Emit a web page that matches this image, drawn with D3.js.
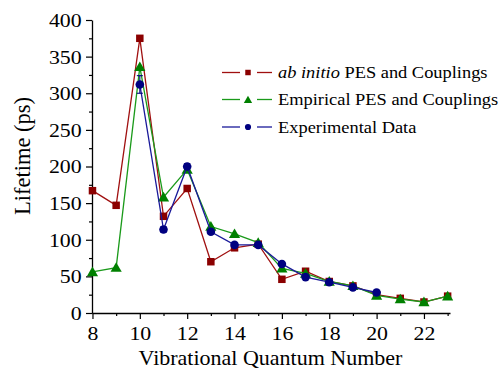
<!DOCTYPE html>
<html>
<head>
<meta charset="utf-8">
<script src="https://cdn.jsdelivr.net/npm/d3@7"></script>
<style>
  html, body { margin: 0; padding: 0; background: #fff; }
  svg { display: block; }
  text { font-family: "Liberation Serif", "Times New Roman", serif; fill: #000; }
</style>
</head>
<body>
<svg id="chart" width="502" height="373"></svg>
<script>
// Vibrational levels and lifetimes (ps)
const abInitioLevels = [8, 9, 10, 11, 12, 13, 14, 15, 16, 17, 18, 19, 20, 21, 22, 23];
const abInitioLifetime = [167, 147, 375, 132, 170, 70, 89, 94, 46, 57, 43, 37, 25, 20, 15, 23];

const empiricalLevels = [8, 9, 10, 11, 12, 13, 14, 15, 16, 17, 18, 19, 20, 21, 22, 23];
const empiricalLifetime = [56, 62, 336, 158, 196, 118, 108, 96, 61, 54, 43, 37, 24, 19, 15, 23];

const experimentLevels = [10, 11, 12, 13, 14, 15, 16, 17, 18, 19, 20];
const experimentLifetime = [312, 114, 200, 111, 93, 93, 67, 49, 42, 35, 28];
const experimentError = [12, 4, 4, 3, 3, 3, 3, 2, 2, 2, 2];

const xTickValues = [8, 10, 12, 14, 16, 18, 20, 22];
const yTickValues = [0, 50, 100, 150, 200, 250, 300, 350, 400];

const seriesNames = ["ab initio", "Empirical PES and Couplings", "Experimental Data"];

const svg = d3.select("#chart");
const plotLeft = 92, plotRight = 450, plotTop = 20, plotBottom = 313;
const stretch = 1.15; // wide-set label text

const x = d3.scaleLinear().domain([7.98, 23.1]).range([plotLeft, plotRight]);
const y = d3.scaleLinear().domain([0, 400]).range([plotBottom, plotTop]);

// Axes: major ticks with labels, minor ticks without
const xAxis = svg.append("g").attr("transform", `translate(0,${plotBottom})`);
xAxis.call(d3.axisBottom(x).tickValues(xTickValues).tickFormat(d3.format("d")).tickSize(6).tickSizeOuter(0));
xAxis.append("g").call(d3.axisBottom(x).tickValues(d3.range(9, 24, 2)).tickFormat("").tickSize(3).tickSizeOuter(0))
  .select(".domain").remove();

const yAxis = svg.append("g").attr("transform", `translate(${plotLeft},0)`);
yAxis.call(d3.axisLeft(y).tickValues(yTickValues).tickFormat(d3.format("d")).tickSize(6).tickSizeOuter(0));
yAxis.append("g").call(d3.axisLeft(y).tickValues(d3.range(25, 400, 50)).tickFormat("").tickSize(3).tickSizeOuter(0))
  .select(".domain").remove();

svg.selectAll(".domain").attr("stroke", "#000").attr("stroke-width", 1.3);
svg.selectAll(".tick line").attr("stroke", "#000").attr("stroke-width", 1.2);
xAxis.selectAll(".tick text")
  .attr("font-size", 19).attr("font-family", "Liberation Serif")
  .attr("y", 27).attr("dy", 0).attr("transform", `scale(${stretch},1)`);
yAxis.selectAll(".tick text")
  .attr("font-size", 19).attr("font-family", "Liberation Serif")
  .attr("x", -10.3 / stretch).attr("dy", "0.34em").attr("transform", `scale(${stretch},1)`);

// Axis titles
svg.append("text").attr("x", 270.5).attr("y", 365).attr("text-anchor", "middle")
  .attr("font-size", 22).text("Vibrational Quantum Number");
svg.append("text").attr("transform", `translate(30,156) rotate(-90)`).attr("text-anchor", "middle")
  .attr("font-size", 22.5).text("Lifetime (ps)");

const colors = { red: "#8b0000", green: "#008000", blue: "#000080" };
const lineColors = { red: "#a01010", green: "#1a9a1a", blue: "#1a1a9a" };

function drawLine(levels, values, color) {
  const pts = levels.map((l, i) => [l, values[i]]);
  svg.append("path").datum(pts)
    .attr("fill", "none").attr("stroke", color).attr("stroke-width", 1.3)
    .attr("d", d3.line().x(d => x(d[0])).y(d => y(d[1])));
  return pts;
}

const sym = {
  square: d3.symbol().type(d3.symbolSquare).size(56),
  triangle: d3.symbol().type(d3.symbolTriangle).size(54),
  circle: d3.symbol().type(d3.symbolCircle).size(58)
};

// ab initio
const redPts = drawLine(abInitioLevels, abInitioLifetime, lineColors.red);
svg.append("g").selectAll("path").data(redPts).join("path")
  .attr("transform", d => `translate(${x(d[0])},${y(d[1])})`)
  .attr("d", sym.square).attr("fill", colors.red);

// empirical
const greenPts = drawLine(empiricalLevels, empiricalLifetime, lineColors.green);
svg.append("g").selectAll("path").data(greenPts).join("path")
  .attr("transform", d => `translate(${x(d[0])},${y(d[1]) + 1})`)
  .attr("d", sym.triangle).attr("fill", colors.green);

// experiment with error bars
const bluePts = drawLine(experimentLevels, experimentLifetime, lineColors.blue);
const errG = svg.append("g").attr("stroke", colors.blue).attr("stroke-width", 1.1);
experimentLevels.forEach((l, i) => {
  const v = experimentLifetime[i], e = experimentError[i];
  const cx = x(l);
  errG.append("line").attr("x1", cx).attr("x2", cx).attr("y1", y(v - e)).attr("y2", y(v + e));
  errG.append("line").attr("x1", cx - 3).attr("x2", cx + 3).attr("y1", y(v - e)).attr("y2", y(v - e));
  errG.append("line").attr("x1", cx - 3).attr("x2", cx + 3).attr("y1", y(v + e)).attr("y2", y(v + e));
});
svg.append("g").selectAll("path").data(bluePts).join("path")
  .attr("transform", d => `translate(${x(d[0])},${y(d[1])})`)
  .attr("d", sym.circle).attr("fill", colors.blue);

// Legend
const legend = svg.append("g");
const legendSym = {
  red: d3.symbol().type(d3.symbolSquare).size(30),
  green: d3.symbol().type(d3.symbolTriangle).size(30),
  blue: d3.symbol().type(d3.symbolCircle).size(30)
};
const legendKeys = ["red", "green", "blue"];
const rowY = [72.5, 99.5, 127];
legendKeys.forEach((key, i) => {
  const yy = rowY[i];
  legend.append("line").attr("x1", 222).attr("x2", 240).attr("y1", yy).attr("y2", yy)
    .attr("stroke", lineColors[key]).attr("stroke-width", 1.3);
  legend.append("line").attr("x1", 257).attr("x2", 272).attr("y1", yy).attr("y2", yy)
    .attr("stroke", lineColors[key]).attr("stroke-width", 1.3);
  legend.append("path").attr("transform", `translate(248,${yy + (key === "green" ? 1 : 0)})`)
    .attr("d", legendSym[key]()).attr("fill", colors[key]);
  const t = legend.append("text")
    .attr("transform", `translate(278,${yy}) scale(${stretch},1)`)
    .attr("dy", "0.35em").attr("font-size", 16);
  if (i === 0) {
    t.append("tspan").attr("font-style", "italic").text(seriesNames[0]);
    t.append("tspan").text(" PES and Couplings");
  } else {
    t.text(seriesNames[i]);
  }
});
</script>
</body>
</html>
